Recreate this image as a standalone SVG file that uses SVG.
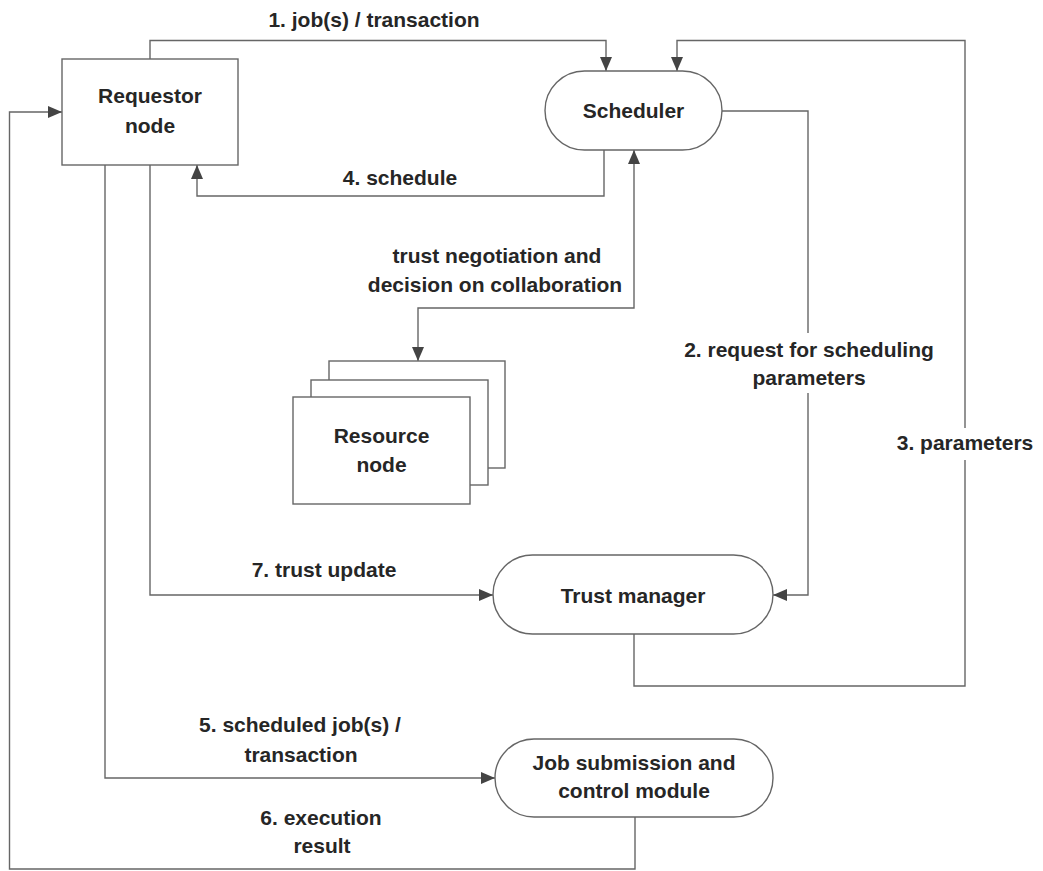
<svg xmlns="http://www.w3.org/2000/svg" width="1043" height="871" viewBox="0 0 1043 871">
<style>
.box{fill:#fff;stroke:#666;stroke-width:1.4}
.ln{fill:none;stroke:#666;stroke-width:1.4}
.t{font-family:"Liberation Sans",Arial,sans-serif;font-weight:bold;font-size:21px;fill:#262626;text-anchor:middle}
.tl{font-family:"Liberation Sans",Arial,sans-serif;font-weight:bold;font-size:21px;fill:#262626;text-anchor:middle}
</style>
<defs>
<marker id="ah" viewBox="0 0 14 12" refX="14" refY="6" markerWidth="14" markerHeight="12" markerUnits="userSpaceOnUse" orient="auto-start-reverse">
<path d="M0,0 L14,6 L0,12 z" fill="#444"/>
</marker>
</defs>
<rect width="1043" height="871" fill="#fff"/>
<g id="connectors">
<path class="ln" d="M150,59 V40.5 H606 V71" marker-end="url(#ah)"/>
<path class="ln" d="M634,634 V686 H965 V460 M965,428 V40.5 H677 V71" marker-end="url(#ah)"/>
<path class="ln" d="M722,111 H808 V333 M808,393 V595 H773" marker-end="url(#ah)"/>
<path class="ln" d="M604,150 V196 H197 V165" marker-end="url(#ah)"/>
<path class="ln" d="M634,150 V308 H418 V361" marker-start="url(#ah)" marker-end="url(#ah)"/>
<path class="ln" d="M150,165 V595 H493" marker-end="url(#ah)"/>
<path class="ln" d="M105,165 V778 H495" marker-end="url(#ah)"/>
<path class="ln" d="M635,817 V869 H9.5 V112 H62" marker-end="url(#ah)"/>
<text class="tl" x="374" y="27">1. job(s) / transaction</text>
<text class="tl" x="400" y="185">4. schedule</text>
<text class="tl" x="497" y="263">trust negotiation and</text>
<text class="tl" x="495" y="292">decision on collaboration</text>
<text class="tl" x="809" y="357">2. request for scheduling</text>
<text class="tl" x="809" y="385">parameters</text>
<text class="tl" x="965" y="450">3. parameters</text>
<text class="tl" x="324" y="577">7. trust update</text>
<text class="tl" x="300" y="732">5. scheduled job(s) /</text>
<text class="tl" x="301" y="762">transaction</text>
<text class="tl" x="321" y="825">6. execution</text>
<text class="tl" x="322" y="853">result</text>
</g>
<g id="requestor">
<rect class="box" x="62" y="59" width="176" height="106"/>
<text class="t" x="150" y="103">Requestor</text>
<text class="t" x="150" y="133">node</text>
</g>
<g id="scheduler">
<rect class="box" x="545" y="71" width="177" height="79" rx="39.5" ry="39.5"/>
<text class="t" x="633.5" y="118">Scheduler</text>
</g>
<g id="resource">
<rect class="box" x="329" y="361" width="176" height="107"/>
<rect class="box" x="311" y="380" width="177" height="105"/>
<rect class="box" x="293" y="397" width="177" height="107"/>
<text class="t" x="381.5" y="443">Resource</text>
<text class="t" x="381.5" y="472">node</text>
</g>
<g id="trust-manager">
<rect class="box" x="493" y="555" width="280" height="79" rx="39.5" ry="39.5"/>
<text class="t" x="633" y="603">Trust manager</text>
</g>
<g id="job-submission">
<rect class="box" x="495" y="739" width="278" height="78" rx="39" ry="39"/>
<text class="t" x="634" y="770">Job submission and</text>
<text class="t" x="634" y="798">control module</text>
</g>
</svg>
